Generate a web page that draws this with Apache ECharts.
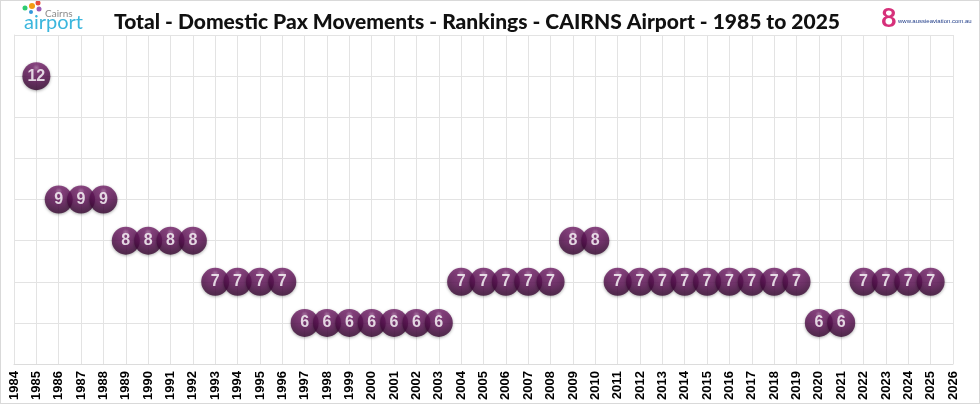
<!DOCTYPE html>
<html>
<head>
<meta charset="utf-8">
<script src="https://cdn.jsdelivr.net/npm/echarts@6/dist/echarts.min.js"></script>
<style>
html,body{margin:0;padding:0;background:#fff;}
#main{width:978px;height:402px;border:1px solid #d9d9d9;}
</style>
</head>
<body>
<div id="main"></div>
<script>
// rankings per year
var years = [1985,1986,1987,1988,1989,1990,1991,1992,1993,1994,1995,1996,1997,1998,1999,2000,2001,2002,2003,2004,2005,2006,2007,2008,2009,2010,2011,2012,2013,2014,2015,2016,2017,2018,2019,2020,2021,2022,2023,2024,2025];
var ranks = [12,9,9,9,8,8,8,8,7,7,7,7,6,6,6,6,6,6,6,7,7,7,7,7,8,8,7,7,7,7,7,7,7,7,7,6,6,7,7,7,7];
var titleText = 'Total - Domestic Pax Movements - Rankings - CAIRNS Airport - 1985 to 2025';

var myChart = echarts.init(document.getElementById('main'));

var points = [];
for (var i = 0; i < years.length; i++) {
	points.push([years[i], ranks[i]]);
}

var option = {
	backgroundColor: '#fff',
	animation: false,
	title: {
		text: titleText,
		left: 471,
		top: 6,
		textAlign: 'center',
		textStyle: {fontFamily: 'Lato', fontWeight: 900, fontSize: 21, color: '#111'}
	},
	graphic: [
		// cairns airport logo (rough)
		{type: 'text', left: 23, top: 12, style: {text: 'airport', fontFamily: 'Lato', fontSize: 20, fill: '#3bb6dd'}},
		{type: 'text', left: 44, top: 8, style: {text: 'Cairns', fontFamily: 'Lato', fontSize: 10, fill: '#8a8a8a'}},
		{type: 'circle', shape: {cx: 31, cy: 5, r: 3}, style: {fill: '#f39c12'}},
		{type: 'circle', shape: {cx: 24, cy: 7, r: 2.5}, style: {fill: '#2ecc71'}},
		{type: 'circle', shape: {cx: 37, cy: 2, r: 2.5}, style: {fill: '#e74c3c'}},
		{type: 'circle', shape: {cx: 38, cy: 8, r: 2.5}, style: {fill: '#9b59b6'}},
		{type: 'circle', shape: {cx: 30, cy: 11, r: 2}, style: {fill: '#3498db'}},
		// aussieaviation logo (rough)
		{type: 'text', left: 880, top: 4, style: {text: '8', fontFamily: 'Lato', fontWeight: 'bold', fontSize: 27, fill: '#d6307a'}},
		{type: 'text', left: 897, top: 17, style: {text: 'www.aussieaviation.com.au', fontFamily: 'Liberation Sans', fontSize: 6, fill: '#1f3c88'}}
	],
	grid: {left: 13, right: 26, top: 34, bottom: 36},
	xAxis: {
		type: 'value',
		min: 1984,
		max: 2026,
		interval: 1,
		axisLine: {show: true, lineStyle: {color: '#dcdcdc'}},
		axisTick: {show: false},
		splitLine: {show: true, lineStyle: {color: '#e3e3e3', width: 1}},
		axisLabel: {
			rotate: 90,
			margin: 7,
			color: '#000',
			fontFamily: 'Liberation Sans',
			fontWeight: 'bold',
			fontSize: 13,
			formatter: function (v) { return String(v); }
		}
	},
	yAxis: {
		type: 'value',
		min: 5,
		max: 13,
		interval: 1,
		axisLine: {show: true, lineStyle: {color: '#e3e3e3'}},
		axisTick: {show: false},
		axisLabel: {show: false},
		splitLine: {show: true, lineStyle: {color: '#e3e3e3', width: 1}}
	},
	series: [{
		type: 'scatter',
		data: points,
		symbol: 'circle',
		symbolSize: 28,
		itemStyle: {
			color: {
				type: 'radial', x: 0.5, y: 0.2, r: 0.85,
				colorStops: [
					{offset: 0, color: '#a4649c'},
					{offset: 0.15, color: '#75226b'},
					{offset: 0.5, color: '#5e1356'},
					{offset: 1, color: '#2e0429'}
				]
			},
			shadowBlur: 3,
			shadowColor: 'rgba(0,0,0,0.4)',
			shadowOffsetY: 1
		},
		label: {
			show: true,
			position: 'inside',
			formatter: function (p) { return p.value[1]; },
			color: '#fff',
			fontFamily: 'Liberation Sans',
			fontWeight: 'bold',
			fontSize: 16
		}
	}]
};
myChart.setOption(option);
</script>
</body>
</html>
